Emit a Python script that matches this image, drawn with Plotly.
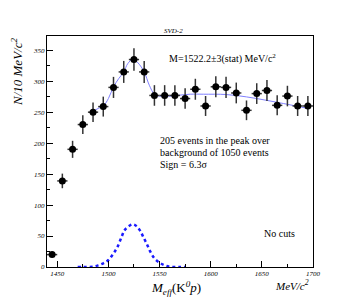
import numpy as np
import plotly.graph_objects as go

# Data points (bin centres, counts per 10 MeV)
mass = [1445, 1455, 1465, 1475, 1485, 1495, 1505, 1515, 1525, 1535,
        1545, 1555, 1565, 1575, 1585, 1595, 1605, 1615, 1625, 1635,
        1645, 1655, 1665, 1675, 1685, 1695]
counts = [20, 139, 190, 230, 250, 259, 290, 315, 335, 315,
          277, 277, 277, 272, 287, 260, 291, 290, 281, 253,
          280, 285, 261, 276, 260, 260]
bin_half = 5

# Total fit curve
fit_x = [1484, 1490, 1495, 1500, 1505, 1510, 1515, 1519, 1524, 1529,
         1535, 1540, 1545, 1550, 1555, 1563, 1570, 1580, 1593, 1615,
         1635, 1655, 1671, 1684, 1695]
fit_y = [250.5, 256, 259.7, 272, 290.8, 304, 315, 328.5, 335.5, 329.5,
         315, 293.5, 279, 275.8, 275.8, 276, 277.5, 279, 279, 278.5,
         274.7, 269, 264, 259.7, 256]

# Signal Gaussian
sig_x = [1470, 1475, 1480, 1485, 1490, 1495, 1500, 1505, 1509, 1513,
         1516, 1521, 1524, 1527.5, 1531, 1534, 1538, 1541, 1545, 1550,
         1555, 1560, 1565, 1570, 1575]
sig_y = [0, 0, 0.1, 0.5, 2.7, 6, 11.3, 22, 32.8, 49,
         59.7, 67, 68.8, 66, 58.6, 49, 35.5, 24.7, 14, 7,
         2.7, 0.5, 0.1, 0, 0]

err_y = [float(np.sqrt(c)) for c in counts]

serif = "Liberation Serif"

fig = go.Figure()

fig.add_trace(go.Scatter(
    x=sig_x, y=sig_y, mode="lines", line=dict(color="#1a1aff", width=2.5, dash="dot", shape="spline"),
    hoverinfo="skip", showlegend=False))

fig.add_trace(go.Scatter(
    x=fit_x, y=fit_y, mode="lines", line=dict(color="#8080ff", width=1, shape="spline"),
    hoverinfo="skip", showlegend=False))

fig.add_trace(go.Scatter(
    x=mass, y=counts, mode="markers",
    marker=dict(color="black", size=7),
    error_y=dict(type="data", array=err_y, color="#333333", thickness=1.5, width=0),
    error_x=dict(type="constant", value=bin_half, color="#333333", thickness=1.5, width=0),
    showlegend=False))

# page offset of the plot div (browser body margin)
OFF = 8
L, R, T, B = 47, 313, 36, 267  # frame in page pixels

fig.update_layout(
    width=350 - OFF, height=303 - OFF,
    margin=dict(l=L - OFF, r=350 - R, t=T - OFF, b=303 - B, autoexpand=False),
    paper_bgcolor="white", plot_bgcolor="white",
    font=dict(family=serif, color="black"),
    xaxis=dict(range=[1440, 1700], tickvals=[1450, 1500, 1550, 1600, 1650, 1700],
               ticks="inside", ticklen=6, tickwidth=1, tickcolor="black",
               minor=dict(tickvals=[1475, 1525, 1575, 1625, 1675], ticks="inside", ticklen=3, tickcolor="black"),
               showline=True, linecolor="black", linewidth=1, mirror=True,
               showgrid=False, zeroline=False,
               tickfont=dict(family=serif, size=7, style="italic")),
    yaxis=dict(range=[0, 373], tickvals=[0, 50, 100, 150, 200, 250, 300, 350],
               ticks="inside", ticklen=6, tickwidth=1, tickcolor="black",
               minor=dict(tickvals=[25, 75, 125, 175, 225, 275, 325], ticks="inside", ticklen=3, tickcolor="black"),
               showline=True, linecolor="black", linewidth=1, mirror=True,
               showgrid=False, zeroline=False,
               tickfont=dict(family=serif, size=7, style="italic")),
)

def ann(text, x, y, size, xanchor="left", style="normal", angle=0):
    fig.add_annotation(text=text, x=px(x), y=py(y), xref="paper", yref="paper",
                       xanchor=xanchor, yanchor="middle", showarrow=False, textangle=angle,
                       font=dict(family=serif, size=size, color="black", style=style))

def px(xp):
    return (xp - L) / (R - L)
def py(yp):
    return (B - yp) / (B - T)

ann("SVD-2", 173, 30.5, 7, xanchor="center", style="italic")
ann("M=1522.2±3(stat) MeV/c<sup>2</sup>", 167, 58, 10)
ann("205 events in the peak over", 158, 140, 10)
ann("background of 1050 events", 158, 152, 10)
ann("Sign = 6.3σ", 158, 164, 10)
ann("No cuts", 262, 233, 10)
ann("<i>N/10 MeV/c</i><sup><i>2</i></sup>", 17, 72, 13, xanchor="center", angle=-90)
ann("<i>M</i><sub><i>eff</i></sub>(K<sup><i>0</i></sup><i>p</i>)", 176, 288, 13, xanchor="center")
ann("<i>MeV/c</i><sup><i>2</i></sup>", 292, 285, 11, xanchor="center")

fig.write_html("out.html")
